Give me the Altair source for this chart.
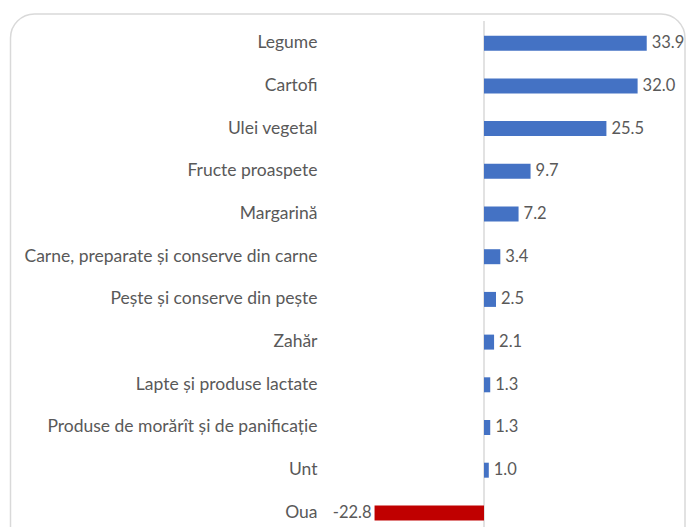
import altair as alt
import pandas as pd

categories = [
    "Legume", "Cartofi", "Ulei vegetal", "Fructe proaspete", "Margarină",
    "Carne, preparate și conserve din carne", "Pește și conserve din pește",
    "Zahăr", "Lapte și produse lactate", "Produse de morărît și de panificație",
    "Unt", "Oua",
]
values = [33.9, 32.0, 25.5, 9.7, 7.2, 3.4, 2.5, 2.1, 1.3, 1.3, 1.0, -22.8]

df = pd.DataFrame({"cat": categories, "val": values})
df["label"] = df["val"].map(lambda v: f"{v:.1f}")
df["sign"] = df["val"].map(lambda v: "neg" if v < 0 else "pos")

FONT = "Lato"
TXT = "#595959"
FS = 17.5
VFS = 16.5

y_enc = alt.Y(
    "cat:N", sort=categories, title=None,
    scale=alt.Scale(paddingInner=0.649, paddingOuter=0.25, align=0.69),
    axis=alt.Axis(ticks=False, domain=False, labelPadding=25,
                  labelFont=FONT, labelFontSize=FS, labelColor=TXT,
                  labelLimit=400),
)
x_scale = alt.Scale(domain=[-29.58, 42.08], nice=False, zero=False)
x_enc = alt.X("val:Q", scale=x_scale, axis=None)

base = alt.Chart(df)

bars = base.mark_bar().encode(
    y=y_enc, x=x_enc,
    color=alt.Color("sign:N", scale=alt.Scale(domain=["pos", "neg"], range=["#4472C4", "#C00000"]), legend=None),
)

pos_lbl = base.transform_filter("datum.val >= 0").mark_text(
    align="left", baseline="middle", dx=5, font=FONT, fontSize=VFS, color=TXT
).encode(y=alt.Y("cat:N", sort=categories), x=x_enc, text="label:N")

neg_lbl = base.transform_filter("datum.val < 0").mark_text(
    align="right", baseline="middle", dx=-3, font=FONT, fontSize=VFS, color=TXT
).encode(y=alt.Y("cat:N", sort=categories), x=x_enc, text="label:N")

zero = alt.Chart(pd.DataFrame({"z": [0]})).mark_rule(color="#D9D9D9", strokeWidth=1.5).encode(
    x=alt.X("z:Q", scale=x_scale, axis=None)
)

frame = alt.Chart(pd.DataFrame({"f": [1]})).mark_rect(
    fill="white", fillOpacity=0, stroke="#D9D9D9", strokeWidth=1.5, cornerRadius=24
).encode(
    x=alt.value(-331.5), x2=alt.value(343), y=alt.value(-7), y2=alt.value(700)
)

chart = alt.layer(frame, zero, bars, pos_lbl, neg_lbl).properties(
    width=344, height=506,
    autosize=alt.AutoSizeParams(type="none"),
    padding={"left": 334, "top": 13, "right": 0, "bottom": 0},
).configure_view(stroke=None)

chart.save("out.html", embed_options={"renderer": "svg", "actions": False})
